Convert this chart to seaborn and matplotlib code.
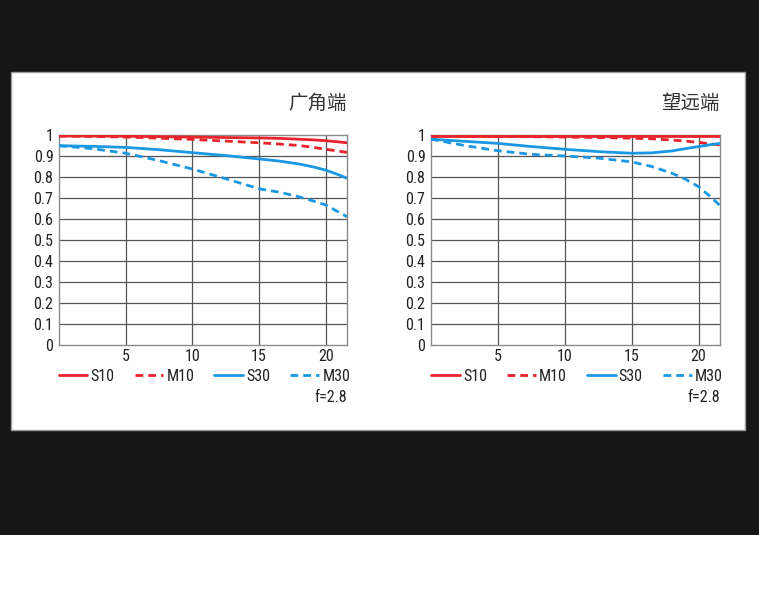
import matplotlib
matplotlib.use("Agg")
import matplotlib.pyplot as plt
import seaborn as sns
import pandas as pd
from matplotlib.patches import Rectangle

# ---- data ----
x_pos = [0, 2.5, 5, 7.5, 10, 12.5, 15, 16.5, 18, 19, 20, 21, 21.6]
series_names = ["S10", "M10", "S30", "M30"]

wide_S10 = [0.995, 0.995, 0.994, 0.992, 0.990, 0.988, 0.986, 0.984, 0.980, 0.977, 0.973, 0.967, 0.963]
wide_M10 = [0.995, 0.993, 0.990, 0.985, 0.979, 0.971, 0.963, 0.957, 0.950, 0.942, 0.932, 0.923, 0.917]
wide_S30 = [0.949, 0.946, 0.941, 0.930, 0.916, 0.902, 0.886, 0.876, 0.862, 0.849, 0.833, 0.810, 0.794]
wide_M30 = [0.949, 0.935, 0.913, 0.878, 0.838, 0.792, 0.744, 0.728, 0.706, 0.687, 0.667, 0.632, 0.611]

tele_S10 = [0.997, 0.997, 0.997, 0.997, 0.997, 0.997, 0.997, 0.997, 0.997, 0.997, 0.997, 0.997, 0.997]
tele_M10 = [0.995, 0.994, 0.993, 0.992, 0.990, 0.988, 0.985, 0.982, 0.976, 0.971, 0.965, 0.957, 0.952]
tele_S30 = [0.980, 0.970, 0.960, 0.945, 0.932, 0.921, 0.913, 0.915, 0.924, 0.935, 0.945, 0.955, 0.960]
tele_M30 = [0.980, 0.950, 0.925, 0.908, 0.900, 0.890, 0.872, 0.850, 0.818, 0.790, 0.754, 0.700, 0.664]

titles = ["广角端", "望远端"]
y_ticks = [0, 0.1, 0.2, 0.3, 0.4, 0.5, 0.6, 0.7, 0.8, 0.9, 1.0]
y_labels = ["0", "0.1", "0.2", "0.3", "0.4", "0.5", "0.6", "0.7", "0.8", "0.9", "1"]
x_ticks = [5, 10, 15, 20]
x_labels = ["5", "10", "15", "20"]
aperture = "f=2.8"

panels = [
    {"S10": wide_S10, "M10": wide_M10, "S30": wide_S30, "M30": wide_M30},
    {"S10": tele_S10, "M10": tele_M10, "S30": tele_S30, "M30": tele_M30},
]

RED = "#e8232b"
BLUE = "#1a98e2"
palette = {"S10": RED, "M10": RED, "S30": BLUE, "M30": BLUE}
dashes = {"S10": "", "M10": (2.8, 1.8), "S30": "", "M30": (2.8, 1.8)}

sns.set_theme(style="white")
plt.rcParams["font.family"] = ["Roboto Condensed", "Open Sans", "Noto Sans", "DejaVu Sans"]

W, H = 759, 600
fig = plt.figure(figsize=(W / 100, H / 100), dpi=100, facecolor="white")

# dark background and white card
fig.patches.append(Rectangle((0, 1 - 535 / H), 1, 535 / H, transform=fig.transFigure,
                             facecolor="#161616", edgecolor="none", zorder=-10))
fig.patches.append(Rectangle((11 / W, 1 - 430 / H), (745 - 11) / W, (430 - 72) / H,
                             transform=fig.transFigure, facecolor="white",
                             edgecolor="#9a9a9a", linewidth=1.0, zorder=-9))

ax_lefts = [59, 431]
ax_widths = [288, 289]
for i, pdata in enumerate(panels):
    ax = fig.add_axes([ax_lefts[i] / W, 1 - 345 / H, ax_widths[i] / W, 210 / H])
    ax.set_facecolor("white")
    rows = []
    for s in series_names:
        for xv, yv in zip(x_pos, pdata[s]):
            rows.append({"x": xv, "y": yv, "series": s})
    df = pd.DataFrame(rows)
    sns.lineplot(data=df, x="x", y="y", hue="series", style="series",
                 hue_order=series_names, style_order=series_names,
                 palette=palette, dashes=dashes, linewidth=2.0, ax=ax, zorder=3)
    ax.set_xlim(0, 21.6)
    ax.set_ylim(0, 1)
    ax.set_yticks(y_ticks)
    ax.set_yticklabels(y_labels)
    ax.set_xticks(x_ticks)
    ax.set_xticklabels(x_labels)
    ax.set_xlabel("")
    ax.set_ylabel("")
    ax.tick_params(length=0, labelsize=11.5, colors="#222222", pad=4)
    ax.tick_params(axis="x", pad=3)
    for yv in y_ticks[1:-1]:
        ax.axhline(yv, color="#555555", linewidth=0.9, zorder=1)
    for xv in x_ticks:
        ax.axvline(xv, color="#555555", linewidth=0.9, zorder=1)
    for sp in ax.spines.values():
        sp.set_color("#8a8a8a")
        sp.set_linewidth(1.0)
        sp.set_visible(True)
    ax.text(1.0, 1.152, titles[i], transform=ax.transAxes, ha="right", va="center",
            fontsize=14, color="#333333", family=["Noto Sans CJK SC", "DejaVu Sans"])
    ax.text(1.0, -0.252, aperture, transform=ax.transAxes, ha="right", va="center",
            fontsize=11.5, color="#222222")
    handles, labels = ax.get_legend_handles_labels()
    ax.legend(handles, labels, loc="center", bbox_to_anchor=(0.505, -0.148),
              ncol=4, frameon=False, handlelength=1.8,
              handletextpad=0.2, columnspacing=1.25, borderaxespad=0,
              fontsize=11.5, labelcolor="#222222")

fig.savefig("out.png", dpi=100, facecolor=fig.get_facecolor())
